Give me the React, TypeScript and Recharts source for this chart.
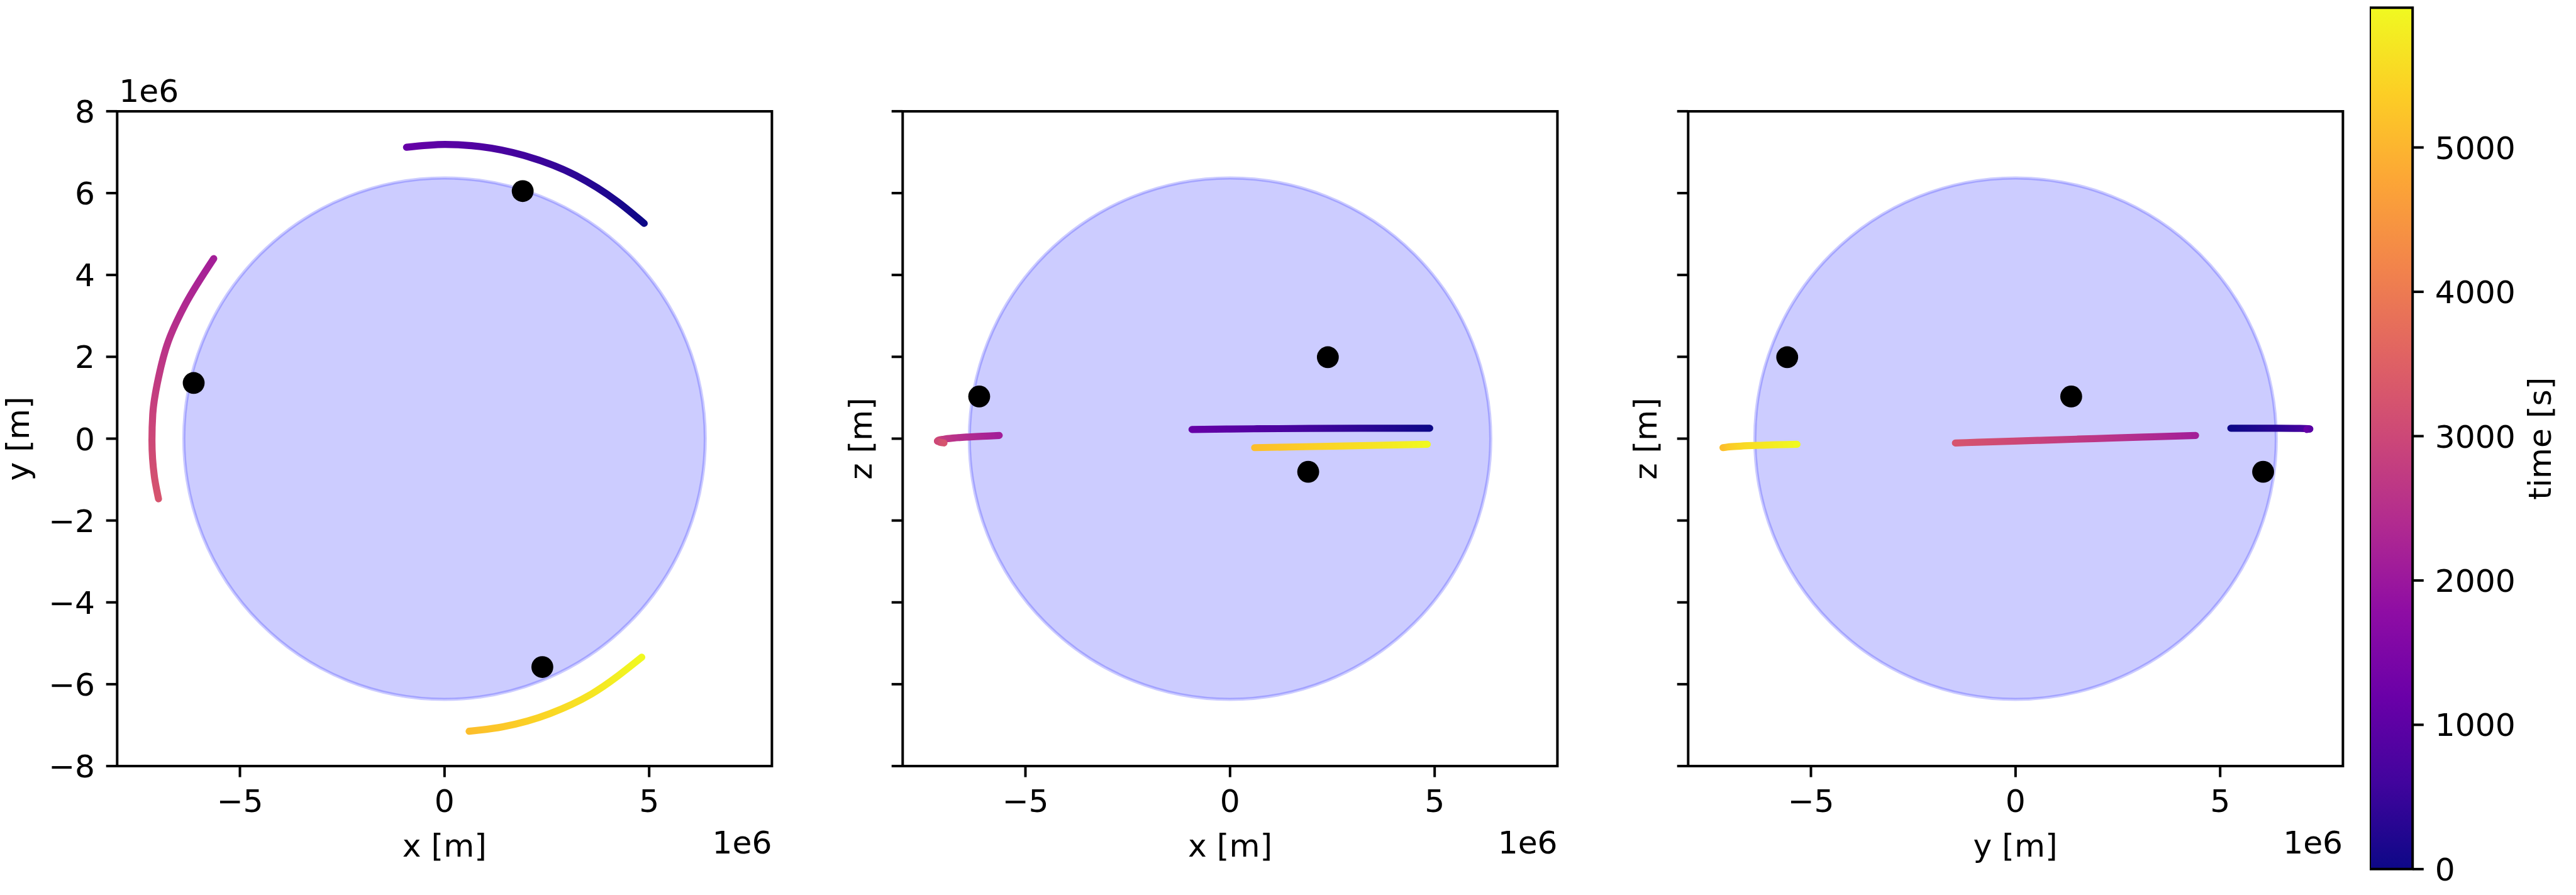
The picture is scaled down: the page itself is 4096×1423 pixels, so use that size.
import React from 'react';
import { ComposedChart, Line, Scatter, XAxis, YAxis, ReferenceArea } from 'recharts';

// ---------------- data ----------------
const T_MAX = 5968; // s, top of the colour bar
const EARTH_RADIUS = 6.371e6; // m
const AX_LIMIT = 8e6; // m

// track segment 1 (t ~ 0 .. 1135 s)
const seg1Time = [0, 150, 372, 615, 847, 966, 1135];
const seg1X = [4.88e6, 4.23e6, 3.21e6, 1.94e6, 0.66e6, 0.01e6, -0.93e6];
const seg1Y = [5.26e6, 5.79e6, 6.43e6, 6.92e6, 7.16e6, 7.19e6, 7.12e6];
const seg1Z = [0.255e6, 0.256e6, 0.255e6, 0.25e6, 0.242e6, 0.237e6, 0.225e6];

// track segment 2 (t ~ 2142 .. 3261 s)
const seg2Time = [2142, 2378, 2554, 2723, 2885, 3000, 3162, 3261];
const seg2X = [-5.64e6, -6.34e6, -6.75e6, -6.99e6, -7.13e6, -7.15e6, -7.09e6, -6.99e6];
const seg2Y = [4.4e6, 3.27e6, 2.38e6, 1.49e6, 0.6e6, -0.04e6, -0.93e6, -1.47e6];
const seg2Z = [0.079e6, 0.044e6, 0.016e6, -0.012e6, -0.04e6, -0.06e6, -0.088e6, -0.105e6];

// track segment 3 (t ~ 5130 .. 5968 s)
const seg3Time = [5130, 5279, 5493, 5691, 5968];
const seg3X = [0.6e6, 1.43e6, 2.57e6, 3.59e6, 4.82e6];
const seg3Y = [-7.15e6, -7.04e6, -6.72e6, -6.24e6, -5.34e6];
const seg3Z = [-0.22e6, -0.204e6, -0.182e6, -0.162e6, -0.138e6];

// black points (stations)
const stationX = [1.91e6, -6.13e6, 2.39e6];
const stationY = [6.05e6, 1.36e6, -5.58e6];
const stationZ = [-0.81e6, 1.03e6, 1.99e6];

// ticks
const vTicks = [-8e6, -6e6, -4e6, -2e6, 0, 2e6, 4e6, 6e6, 8e6];
const hTicks = [-5e6, 0, 5e6];
const timeTicks = [0, 1000, 2000, 3000, 4000, 5000];

// plasma colour map lookup table
const PLASMA = ['#0d0887', '#41049d', '#6a00a8', '#8f0da4', '#b12a90', '#cc4778', '#e16462', '#f2844b', '#fca636', '#fcce25', '#f0f921'];

type Coord = 'x' | 'y' | 'z';
const SEGMENTS: { time: number[]; x: number[]; y: number[]; z: number[] }[] = [
  { time: seg1Time, x: seg1X, y: seg1Y, z: seg1Z },
  { time: seg2Time, x: seg2X, y: seg2Y, z: seg2Z },
  { time: seg3Time, x: seg3X, y: seg3Y, z: seg3Z },
];
const STATIONS = { x: stationX, y: stationY, z: stationZ };

const PANELS: { hk: Coord; vk: Coord; hLabel: string; vLabel: string }[] = [
  { hk: 'x', vk: 'y', hLabel: 'x [m]', vLabel: 'y [m]' },
  { hk: 'x', vk: 'z', hLabel: 'x [m]', vLabel: 'z [m]' },
  { hk: 'y', vk: 'z', hLabel: 'y [m]', vLabel: 'z [m]' },
];

// ---------------- layout (px in the 4096 x 1423 window) ----------------
const W = 4096;
const H = 1423;
const FONT = '"DejaVu Sans", Verdana, sans-serif';
const FS = 50.3;
const PANEL_LEFT = [186.3, 1435.5, 2684.0];
const PANEL_TOP = 176.9;
const PANEL_SIZE = 1041.1;
const TICK = 17.6;
const PAD = 17.6;
const LW = 4;
const TRACK_W = 11.2;
const DOT_R = 17.4;
const Y_AXIS_W = 186.3;
const CHART_W = Y_AXIS_W + PANEL_SIZE + 20;
const X_AXIS_H = H - PANEL_TOP - PANEL_SIZE;
const X_TICK_BASE = 1291.5;
const X_LABEL_BASE = 1361.8;
const X_OFFSET_BASE = 1356.8;
const DIGIT_HALF = 18.1;

const CB_LEFT = 3767.8;
const CB_W = 68.2;
const CB_TOP = 12.3;
const CB_BOTTOM = 1381.9;
const CB_AXIS_W = 240;

// ---------------- helpers ----------------
function hexToRgb(h: string) {
  const n = parseInt(h.slice(1), 16);
  return [(n >> 16) & 255, (n >> 8) & 255, n & 255];
}
function plasma(f: number) {
  const c = Math.min(1, Math.max(0, f)) * (PLASMA.length - 1);
  const i = Math.min(PLASMA.length - 2, Math.floor(c));
  const u = c - i;
  const a = hexToRgb(PLASMA[i]);
  const b = hexToRgb(PLASMA[i + 1]);
  const m = a.map((v, k) => Math.round(v + (b[k] - v) * u));
  return `rgb(${m[0]},${m[1]},${m[2]})`;
}
const fmt = (v: number) => {
  const n = Math.round(v / 1e6);
  return n < 0 ? `\u2212${-n}` : `${n}`;
};

// Each segment is split into runs that are monotonic along the segment's
// dominant screen direction; each run is one smooth Line with a gradient
// whose stops follow the time of the sampled points.
type Run = {
  id: string;
  data: { h: number; v: number }[];
  horiz: boolean;
  stops: { offset: number; color: string }[];
};
function buildRuns(pi: number): Run[] {
  const spec = PANELS[pi];
  const out: Run[] = [];
  SEGMENTS.forEach((s, si) => {
    const hs = s[spec.hk];
    const vs = s[spec.vk];
    const ts = s.time;
    const horiz = Math.max(...hs) - Math.min(...hs) >= Math.max(...vs) - Math.min(...vs);
    const key = horiz ? hs : vs;
    const groups: number[][] = [];
    let cur = [0];
    let dir = 0;
    for (let i = 1; i < key.length; i++) {
      const d = Math.sign(key[i] - key[i - 1]);
      if (dir !== 0 && d !== dir) {
        groups.push(cur);
        cur = [i - 1];
      }
      dir = d;
      cur.push(i);
    }
    groups.push(cur);
    groups.forEach((g, gi) => {
      let pts = g.map((i) => ({ h: hs[i], v: vs[i], t: ts[i] }));
      pts = horiz ? pts.sort((a, b) => a.h - b.h) : pts.sort((a, b) => b.v - a.v);
      const lo = horiz ? pts[0].h : pts[pts.length - 1].v;
      const hi = horiz ? pts[pts.length - 1].h : pts[0].v;
      const span = hi - lo || 1;
      const stops = pts.map((p) => ({
        offset: horiz ? (p.h - lo) / span : (hi - p.v) / span,
        color: plasma(p.t / T_MAX),
      }));
      out.push({
        id: `trk-${pi}-${si}-${gi}`,
        data: pts.map((p) => ({ h: p.h, v: p.v })),
        horiz,
        stops,
      });
    });
  });
  return out;
}
const ALL_RUNS = PANELS.map((_, i) => buildRuns(i));

const EarthShape = (p: any) => (
  <ellipse
    cx={p.x + p.width / 2}
    cy={p.y + p.height / 2}
    rx={Math.abs(p.width) / 2}
    ry={Math.abs(p.height) / 2}
    fill="#0000ff"
    fillOpacity={0.2}
    stroke="#0000ff"
    strokeOpacity={0.2}
    strokeWidth={5}
  />
);

const StationDot = (p: any) => <circle cx={p.cx} cy={p.cy} r={DOT_R} fill="#000" />;

const XTick = (p: any) => (
  <text x={p.x} y={X_TICK_BASE} textAnchor="middle" fontFamily={FONT} fontSize={FS} fill="#000">
    {fmt(p.payload.value)}
  </text>
);
const YTick = (p: any) => (
  <text x={Y_AXIS_W - TICK - PAD} y={p.y + DIGIT_HALF} textAnchor="end" fontFamily={FONT} fontSize={FS} fill="#000">
    {fmt(p.payload.value)}
  </text>
);
const NoTick = () => <g />;
const CbTick = (p: any) => (
  <text x={CB_W + TICK + PAD + 0.4} y={p.y + DIGIT_HALF} textAnchor="start" fontFamily={FONT} fontSize={FS} fill="#000">
    {p.payload.value}
  </text>
);

function Panel({ index }: { index: number }) {
  const spec = PANELS[index];
  const runs = ALL_RUNS[index];
  const stationData = STATIONS[spec.hk].map((h, i) => ({ h, v: STATIONS[spec.vk][i] }));
  return (
    <div style={{ position: 'absolute', left: PANEL_LEFT[index] - Y_AXIS_W, top: 0 }}>
      <ComposedChart width={CHART_W} height={H} margin={{ top: PANEL_TOP, right: CHART_W - Y_AXIS_W - PANEL_SIZE, bottom: 0, left: 0 }}>
        <XAxis
          type="number"
          dataKey="h"
          domain={[-AX_LIMIT, AX_LIMIT]}
          ticks={hTicks}
          interval={0}
          allowDataOverflow
          axisLine={false}
          stroke="#000"
          tickSize={TICK}
          tickMargin={0}
          tickLine={{ stroke: '#000', strokeWidth: LW }}
          tick={<XTick />}
          height={X_AXIS_H}
        />
        <YAxis
          type="number"
          dataKey="v"
          domain={[-AX_LIMIT, AX_LIMIT]}
          ticks={vTicks}
          interval={0}
          allowDataOverflow
          axisLine={false}
          stroke="#000"
          tickSize={TICK}
          tickMargin={0}
          tickLine={{ stroke: '#000', strokeWidth: LW }}
          tick={index === 0 ? <YTick /> : <NoTick />}
          width={Y_AXIS_W}
        />
        <ReferenceArea
          x1={-EARTH_RADIUS}
          x2={EARTH_RADIUS}
          y1={-EARTH_RADIUS}
          y2={EARTH_RADIUS}
          ifOverflow="visible"
          shape={EarthShape}
        />
        {runs.map((r) => (
          <Line
            key={r.id}
            data={r.data}
            dataKey="v"
            type={r.horiz ? 'monotoneX' : 'monotoneY'}
            stroke={`url(#${r.id})`}
            strokeWidth={TRACK_W}
            strokeLinecap="round"
            strokeLinejoin="round"
            dot={false}
            activeDot={false}
            legendType="none"
            isAnimationActive={false}
          />
        ))}
        <Scatter data={stationData} dataKey="v" shape={StationDot} isAnimationActive={false} legendType="none" />
        <ReferenceArea
          x1={-AX_LIMIT}
          x2={AX_LIMIT}
          y1={-AX_LIMIT}
          y2={AX_LIMIT}
          ifOverflow="visible"
          fill="none"
          fillOpacity={0}
          stroke="#000"
          strokeWidth={LW}
        />
      </ComposedChart>
    </div>
  );
}

function ColorBar() {
  const cbData = [
    { x: 0, t: 0 },
    { x: 1, t: T_MAX },
  ];
  return (
    <div style={{ position: 'absolute', left: CB_LEFT, top: 0 }}>
      <ComposedChart
        width={CB_W + CB_AXIS_W}
        height={H}
        data={cbData}
        margin={{ top: CB_TOP, right: 0, bottom: H - CB_BOTTOM, left: 0 }}
      >
        <XAxis type="number" dataKey="x" domain={[0, 1]} hide height={0} />
        <YAxis
          type="number"
          dataKey="t"
          orientation="right"
          domain={[0, T_MAX]}
          ticks={timeTicks}
          interval={0}
          allowDataOverflow
          width={CB_AXIS_W}
          axisLine={false}
          stroke="#000"
          tickSize={TICK}
          tickMargin={0}
          tickLine={{ stroke: '#000', strokeWidth: LW }}
          tick={<CbTick />}
        />
        <ReferenceArea
          x1={0}
          x2={1}
          y1={0}
          y2={T_MAX}
          ifOverflow="visible"
          fill="url(#cbGrad)"
          fillOpacity={1}
          stroke="#000"
          strokeWidth={LW}
        />
      </ComposedChart>
    </div>
  );
}

function Defs() {
  return (
    <svg width={0} height={0} style={{ position: 'absolute', left: 0, top: 0 }}>
      <defs>
        {ALL_RUNS.flat().map((r) => (
          <linearGradient
            key={r.id}
            id={r.id}
            gradientUnits="objectBoundingBox"
            x1={0}
            y1={0}
            x2={r.horiz ? 1 : 0}
            y2={r.horiz ? 0 : 1}
          >
            {r.stops.map((s, i) => (
              <stop key={i} offset={s.offset} stopColor={s.color} />
            ))}
          </linearGradient>
        ))}
        <linearGradient id="cbGrad" x1="0" y1="1" x2="0" y2="0">
          {PLASMA.map((c, i) => (
            <stop key={i} offset={i / (PLASMA.length - 1)} stopColor={c} />
          ))}
        </linearGradient>
      </defs>
    </svg>
  );
}

function Labels() {
  const txt = { fontFamily: FONT, fontSize: FS, fill: '#000' };
  const midY = PANEL_TOP + PANEL_SIZE / 2;
  const yLabelX = [46.0, PANEL_LEFT[1] - 49.7, PANEL_LEFT[2] - 49.7];
  const cbLabelX = 4056.5;
  const cbMid = (CB_TOP + CB_BOTTOM) / 2;
  return (
    <svg width={W} height={H} style={{ position: 'absolute', left: 0, top: 0, pointerEvents: 'none' }}>
      {PANELS.map((p, i) => (
        <g key={i}>
          <text {...txt} x={PANEL_LEFT[i] + PANEL_SIZE / 2} y={X_LABEL_BASE} textAnchor="middle">
            {p.hLabel}
          </text>
          <text {...txt} x={PANEL_LEFT[i] + PANEL_SIZE} y={X_OFFSET_BASE} textAnchor="end">
            1e6
          </text>
          <text
            {...txt}
            x={yLabelX[i]}
            y={midY}
            textAnchor="middle"
            transform={`rotate(-90 ${yLabelX[i]} ${midY})`}
          >
            {p.vLabel}
          </text>
        </g>
      ))}
      <text {...txt} x={PANEL_LEFT[0] + 3} y={161.7} textAnchor="start">
        1e6
      </text>
      <text {...txt} x={cbLabelX} y={cbMid} textAnchor="middle" transform={`rotate(-90 ${cbLabelX} ${cbMid})`}>
        time [s]
      </text>
    </svg>
  );
}

export default function App() {
  return (
    <div style={{ position: 'absolute', left: 0, top: 0, width: W, height: H, background: '#fff', overflow: 'hidden' }}>
      <Defs />
      <Panel index={0} />
      <Panel index={1} />
      <Panel index={2} />
      <ColorBar />
      <Labels />
    </div>
  );
}
